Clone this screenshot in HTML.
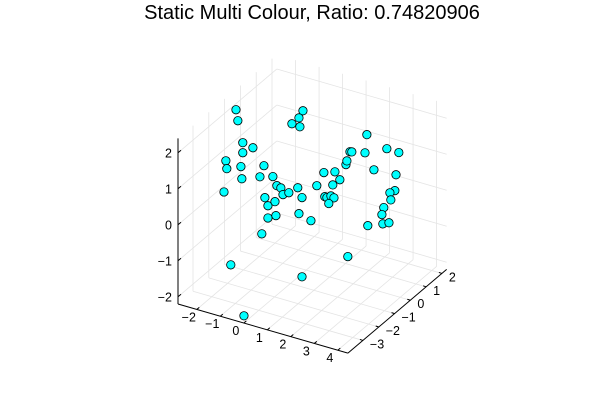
<!DOCTYPE html>
<html><head><meta charset="utf-8"><style>
html,body{margin:0;padding:0;background:#fff;}
svg{display:block;font-family:"Liberation Sans","DejaVu Sans",sans-serif;}
</style></head><body>
<svg id="chart" width="600" height="400" viewBox="0 0 600 400">
<rect width="600" height="400" fill="#fff"/>
<text x="312" y="19" font-size="20" text-anchor="middle" fill="#000">Static Multi Colour, Ratio: 0.74820906</text>
<g id="grid"></g>
<g id="axes"></g>
<g id="points"></g>
</svg>
<script>
const xTicks = [-2,-1,0,1,2,3,4];
const yTicks = [-3,-2,-1,0,1,2];
const zTicks = [-2,-1,0,1,2];
const xVals = [-2.72,-2.64,0.13,-0.04,-0.34,0,-2.43,-2.0,-2.43,-3.15,-3.11,-2.51,-2.47,-1.53,-1.70,-1.15,-3.23,-0.98,-0.81,-1.49,-1.36,-1.06,-0.72,-0.47,-0.09,0.09,-1.36,-1.02,-0.04,0.47,-1.62,0.72,1.02,1.49,1.40,1.70,1.06,1.15,1.32,1.45,1.23,1.96,2.0,2.13,2.21,2.85,2.77,3.70,4.21,3.15,4.09,4.04,3.83,3.87,3.57,3.49,3.53,3.79,2.89,-2.94,0.09,2.04,-2.38];
const yVals = [-0.4,-0.4,-0.4,-0.4,-0.4,-0.4,-0.4,-0.4,-0.4,-0.4,-0.4,-0.4,-0.4,-0.4,-0.4,-0.4,-0.4,-0.4,-0.4,-0.4,-0.4,-0.4,-0.4,-0.4,-0.4,-0.4,-0.4,-0.4,-0.4,-0.4,-0.4,-0.4,-0.4,-0.4,-0.4,-0.4,-0.4,-0.4,-0.4,-0.4,-0.4,-0.4,-0.4,-0.4,-0.4,-0.4,-0.4,-0.4,-0.4,-0.4,-0.4,-0.4,-0.4,-0.4,-0.4,-0.4,-0.4,-0.4,-0.4,-0.4,-0.4,-0.4,-0.4];
const zVals = [1.89,1.60,2.40,2.17,1.95,1.93,1.03,0.97,0.75,0.39,0.18,0.35,0.02,0.56,0.22,0.33,-0.49,0.11,0.08,-0.32,-0.52,-0.35,-0.09,0.01,0.22,-0.02,-0.86,-0.73,-0.49,-0.59,-1.35,0.43,0.85,0.96,0.58,0.78,0.19,0.18,0.26,0.23,0.03,1.25,1.36,1.64,1.65,2.25,1.73,2.02,2.01,1.33,1.37,0.92,0.82,0.63,0.36,0.15,-0.10,-0.02,-0.27,-2.46,-2.22,-1.29,-3.77];

const XMIN=-2.8, XMAX=4.43, YMIN=-3.95, YMAX=2.3, ZMIN=-2.2, ZMAX=2.4;
const C0=[178,304], EX=[23.5,6.8], EY=[15.8,-13.4], EZ=[0,-36];
function proj(x,y,z){
  const a=x-XMIN,b=y-YMIN,c=z-ZMIN;
  return [C0[0]+a*EX[0]+b*EY[0]+c*EZ[0], C0[1]+a*EX[1]+b*EY[1]+c*EZ[1]];
}
const NS="http://www.w3.org/2000/svg";
function line(g,p,q,stroke,w,name){
  const l=document.createElementNS(NS,"line");
  l.setAttribute("x1",p[0]);l.setAttribute("y1",p[1]);l.setAttribute("x2",q[0]);l.setAttribute("y2",q[1]);
  l.setAttribute("stroke",stroke);l.setAttribute("stroke-width",w);
  
  
  g.appendChild(l);
}
function text(g,x,y,s,anchor,name){
  const t=document.createElementNS(NS,"text");
  t.setAttribute("x",x);t.setAttribute("y",y);t.setAttribute("font-size","12.5");
  t.setAttribute("text-anchor",anchor);t.setAttribute("fill","#000");
  t.textContent=s;
  
  
  g.appendChild(t);
}
const fmt=v=>v<0?"\u2212"+(-v):String(v);
const grid=document.getElementById("grid"), axes=document.getElementById("axes"), pts=document.getElementById("points");
const GC="#e4e4e4";
xTicks.forEach(v=>{
  line(grid,proj(v,YMIN,ZMIN),proj(v,YMAX,ZMIN),GC,0.8,"x-gridline-floor");
  line(grid,proj(v,YMAX,ZMIN),proj(v,YMAX,ZMAX),GC,0.8,"x-gridline-back");
});
yTicks.forEach(v=>{
  line(grid,proj(XMIN,v,ZMIN),proj(XMAX,v,ZMIN),GC,0.8,"y-gridline-floor");
  line(grid,proj(XMIN,v,ZMIN),proj(XMIN,v,ZMAX),GC,0.8,"y-gridline-side");
});
zTicks.forEach(v=>{
  line(grid,proj(XMIN,YMIN,v),proj(XMIN,YMAX,v),GC,0.8,"z-gridline-side");
  line(grid,proj(XMIN,YMAX,v),proj(XMAX,YMAX,v),GC,0.8,"z-gridline-back");
});
line(axes,proj(XMIN,YMIN,ZMIN),proj(XMAX,YMIN,ZMIN),"#000",1,"x-axis-line");
line(axes,proj(XMAX,YMIN,ZMIN),proj(XMAX,YMAX,ZMIN),"#000",1,"y-axis-line");
line(axes,proj(XMIN,YMIN,ZMIN),proj(XMIN,YMIN,ZMAX),"#000",1,"z-axis-line");
xTicks.forEach(v=>{
  const p=proj(v,YMIN,ZMIN);
  line(axes,p,[p[0]+2.5,p[1]-2.1],"#000",1,"x-tick");
  text(axes,p[0]-8,p[1]+12,fmt(v),"middle","x-tick-label");
});
yTicks.forEach(v=>{
  const p=proj(XMAX,v,ZMIN);
  line(axes,p,[p[0]-3,p[1]-1],"#000",1,"y-tick");
  text(axes,p[0]+7,p[1]+8,fmt(v),"start","y-tick-label");
});
zTicks.forEach(v=>{
  const p=proj(XMIN,YMIN,v);
  line(axes,p,[p[0]+3,p[1]-2.5],"#000",1,"z-tick");
  text(axes,p[0]-6,p[1]+4.5,fmt(v),"end","z-tick-label");
});
for(let i=0;i<xVals.length;i++){
  const p=proj(xVals[i],yVals[i],zVals[i]);
  const c=document.createElementNS(NS,"circle");
  c.setAttribute("cx",p[0]);c.setAttribute("cy",p[1]);c.setAttribute("r",4.2);
  c.setAttribute("fill","#00ffff");c.setAttribute("stroke","#000");c.setAttribute("stroke-width","0.8");
  
  
  pts.appendChild(c);
}
</script>
</body></html>
